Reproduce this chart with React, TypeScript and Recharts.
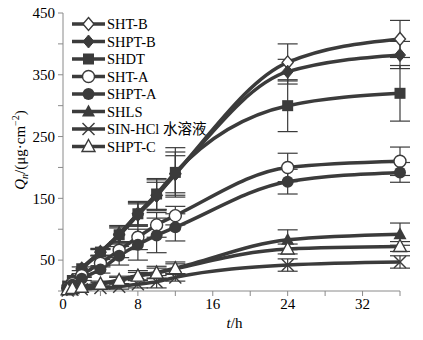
import React from 'react';
import { LineChart, Line, XAxis, YAxis, ErrorBar, Legend } from 'recharts';

const times = [0.5, 1, 2, 4, 6, 8, 10, 12, 24, 36];

const shtB = [8, 17, 36, 63, 92, 125, 155, 190, 370, 408];
const shtBErr = [0, 0, 0, 5, 12, 18, 25, 35, 30, 30];
const shptB = [8, 17, 35, 62, 90, 123, 154, 189, 355, 382];
const shptBErr = [0, 0, 0, 5, 12, 18, 22, 30, 20, 22];
const shdt = [8, 17, 36, 63, 91, 125, 157, 192, 300, 320];
const shdtErr = [0, 0, 3, 6, 15, 20, 25, 40, 42, 45];
const shtA = [5, 12, 25, 45, 66, 87, 107, 122, 200, 210];
const shtAErr = [0, 0, 3, 6, 12, 20, 20, 15, 23, 23];
const shptA = [4, 10, 20, 35, 57, 75, 90, 103, 177, 192];
const shptAErr = [0, 0, 3, 6, 15, 25, 28, 22, 20, 16];
const shls = [2, 4, 7, 12, 18, 25, 30, 37, 83, 92];
const shlsErr = [0, 0, 2, 4, 6, 8, 10, 10, 16, 18];
const sinHcl = [1, 2, 3, 5, 7, 11, 15, 22, 42, 47];
const sinHclErr = [0, 0, 1, 2, 4, 6, 10, 6, 10, 10];
const shptC = [2, 4, 6, 11, 17, 24, 29, 36, 68, 72];
const shptCErr = [0, 0, 2, 3, 5, 6, 8, 8, 8, 8];

const seriesNames = ['SHT-B', 'SHPT-B', 'SHDT', 'SHT-A', 'SHPT-A', 'SHLS', 'SIN-HCl 水溶液', 'SHPT-C'];
const seriesValues = [shtB, shptB, shdt, shtA, shptA, shls, sinHcl, shptC];
const seriesErrors = [shtBErr, shptBErr, shdtErr, shtAErr, shptAErr, shlsErr, sinHclErr, shptCErr];
const markerKinds = ['diamondOpen', 'diamond', 'square', 'circleOpen', 'circle', 'triangle', 'x', 'triangleOpen'];

const xTicks = [0, 4, 8, 12, 16, 20, 24, 28, 32, 36];
const yTicks = [0, 50, 100, 150, 200, 250, 300, 350, 400, 450];

const C = '#3b3b3b';
const AXIS = '#8a8a8a';
const FONT = "'Liberation Serif', 'Noto Sans CJK SC', serif";

function Marker({ kind, cx, cy }: { kind: string; cx: number; cy: number }) {
  switch (kind) {
    case 'diamondOpen':
      return <polygon points={`${cx},${cy - 6.5} ${cx + 5.5},${cy} ${cx},${cy + 6.5} ${cx - 5.5},${cy}`} fill="#fff" stroke={C} strokeWidth={1.4} />;
    case 'diamond':
      return <polygon points={`${cx},${cy - 6.5} ${cx + 5.5},${cy} ${cx},${cy + 6.5} ${cx - 5.5},${cy}`} fill={C} stroke={C} strokeWidth={1} />;
    case 'square':
      return <rect x={cx - 5.5} y={cy - 5.5} width={11} height={11} fill={C} />;
    case 'circleOpen':
      return <circle cx={cx} cy={cy} r={6} fill="#fff" stroke={C} strokeWidth={1.4} />;
    case 'circle':
      return <circle cx={cx} cy={cy} r={6} fill={C} />;
    case 'triangle':
      return <polygon points={`${cx},${cy - 7} ${cx + 6.5},${cy + 5} ${cx - 6.5},${cy + 5}`} fill={C} />;
    case 'triangleOpen':
      return <polygon points={`${cx},${cy - 7} ${cx + 6.5},${cy + 5} ${cx - 6.5},${cy + 5}`} fill="#fff" stroke={C} strokeWidth={1.4} />;
    case 'x':
      return (
        <g stroke={C} strokeWidth={1.4}>
          <line x1={cx - 6} y1={cy - 6} x2={cx + 6} y2={cy + 6} />
          <line x1={cx - 6} y1={cy + 6} x2={cx + 6} y2={cy - 6} />
        </g>
      );
    default:
      return null;
  }
}

function LegendBox() {
  const rowH = 17.5;
  return (
    <svg width={170} height={145} style={{ display: 'block' }}>
      {seriesNames.map((name, i) => {
        const y = 9 + i * rowH;
        return (
          <g key={name}>
            <line x1={0} y1={y} x2={33} y2={y} stroke={C} strokeWidth={3.5} />
            <Marker kind={markerKinds[i]} cx={16.5} cy={y} />
            <text x={35} y={y + 5} fontSize={14.5} fontFamily={FONT} fill="#000">{name}</text>
          </g>
        );
      })}
    </svg>
  );
}

const seriesData = seriesValues.map((vals, s) =>
  times.map((t, i) => ({ t, v: vals[i], e: seriesErrors[s][i] }))
);

export default function App() {
  return (
    <div style={{ position: 'absolute', left: 0, top: 0 }}>
      <LineChart width={423} height={340} margin={{ top: 13, right: 23, bottom: 0, left: 0 }}>
        <XAxis
          type="number"
          dataKey="t"
          domain={[0, 36]}
          ticks={xTicks}
          tickFormatter={(v: number) => (v % 8 === 0 ? String(v) : '')}
          height={49}
          stroke={AXIS}
          tickLine={{ stroke: AXIS }}
          tickSize={5}
          tick={{ fill: '#000', fontSize: 15, fontFamily: FONT }}
          allowDuplicatedCategory={false}
          label={{
            content: (p: any) => {
              const vb = p.viewBox || { x: 63, y: 291, width: 337 };
              return (
                <text x={vb.x + vb.width / 2 + 3} y={vb.y + 37} textAnchor="middle" fontSize={15} fontFamily={FONT} fill="#000">
                  <tspan fontStyle="italic">t</tspan>
                  <tspan>/h</tspan>
                </text>
              );
            },
          }}
        />
        <YAxis
          type="number"
          domain={[0, 450]}
          ticks={yTicks}
          tickFormatter={(v: number) => (v % 100 === 50 ? String(v) : '')}
          width={63}
          stroke={AXIS}
          tickLine={{ stroke: AXIS }}
          tickSize={5}
          tickMargin={3}
          tick={{ fill: '#000', fontSize: 15, fontFamily: FONT }}
          label={{
            content: () => (
              <text x={25} y={150} transform="rotate(-90 25 150)" textAnchor="middle" fontSize={15} fontFamily={FONT} fill="#000">
                <tspan fontStyle="italic">Q</tspan>
                <tspan fontStyle="italic" fontSize={10} dy={3}>n</tspan>
                <tspan dy={-3}>/(μg·cm</tspan>
                <tspan fontSize={10} dy={-6}>−2</tspan>
                <tspan dy={6}>)</tspan>
              </text>
            ),
          }}
        />
        <Legend
          layout="vertical"
          align="center"
          verticalAlign="middle"
          wrapperStyle={{ left: 72, top: 15, width: 170, height: 145 }}
          content={() => <LegendBox />}
        />
        {seriesData.map((data, s) => (
          <Line
            key={seriesNames[s]}
            data={data}
            dataKey="v"
            name={seriesNames[s]}
            type="monotone"
            stroke={C}
            strokeWidth={3.5}
            isAnimationActive={false}
            dot={(p: any) => <Marker key={`${s}-${p.index}`} kind={markerKinds[s]} cx={p.cx} cy={p.cy} />}
            activeDot={false}
          >
            <ErrorBar dataKey="e" direction="y" width={10} stroke={C} strokeWidth={1.2} isAnimationActive={false} />
          </Line>
        ))}
      </LineChart>
    </div>
  );
}
